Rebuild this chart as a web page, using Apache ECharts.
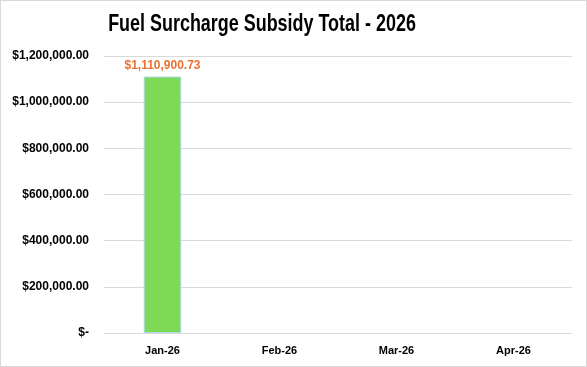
<!DOCTYPE html>
<html><head><meta charset="utf-8">
<script src="https://cdn.jsdelivr.net/npm/echarts@6/dist/echarts.min.js"></script>
<style>html,body{margin:0;padding:0;background:#fff}#c{width:587px;height:367px;box-sizing:border-box;border:1px solid #d9d9d9}</style>
</head><body><div id="c"></div>
<script>
var titleText = 'Fuel Surcharge Subsidy Total - 2026';
var categories = ['Jan-26', 'Feb-26', 'Mar-26', 'Apr-26'];
var subsidyValues = [1110900.73, null, null, null];
var yTicks = [0, 200000, 400000, 600000, 800000, 1000000, 1200000];

function fmtMoney(v) {
  if (v === 0) return '$-';
  return '$' + v.toLocaleString('en-US', {minimumFractionDigits: 2, maximumFractionDigits: 2});
}
var chart = echarts.init(document.getElementById('c'));
chart.setOption({
  animation: false,
  graphic: [{
    type: 'text', x: 261, y: 24, scaleX: 0.78,
    style: {text: titleText, fill: '#000', font: 'bold 23px "Liberation Sans", Arial, sans-serif',
      textAlign: 'center', textVerticalAlign: 'middle'}
  }],
  grid: {left: 103, right: 14, top: 55, bottom: 33},
  xAxis: {
    type: 'category', data: categories,
    axisLine: {lineStyle: {color: '#d9d9d9'}},
    axisTick: {show: false},
    axisLabel: {color: '#000', fontWeight: 'bold', fontSize: 11, fontFamily: 'Liberation Sans, sans-serif', margin: 12}
  },
  yAxis: {
    type: 'value', min: yTicks[0], max: yTicks[yTicks.length - 1], interval: 200000,
    axisLine: {show: false}, axisTick: {show: false},
    splitLine: {lineStyle: {color: '#d9d9d9'}},
    axisLabel: {color: '#000', fontWeight: 'bold', fontSize: 12, fontFamily: 'Liberation Sans, sans-serif', margin: 15, formatter: fmtMoney}
  },
  series: [{
    type: 'bar', data: subsidyValues, barWidth: '32%',
    itemStyle: {color: '#7ed957', borderColor: '#a8dadc', borderWidth: 1},
    label: {show: true, position: 'top', distance: 5, color: '#e97132', fontWeight: 'bold', fontSize: 12,
      fontFamily: 'Liberation Sans, sans-serif',
      formatter: function (p) { return fmtMoney(p.value); }}
  }]
});
</script></body></html>
